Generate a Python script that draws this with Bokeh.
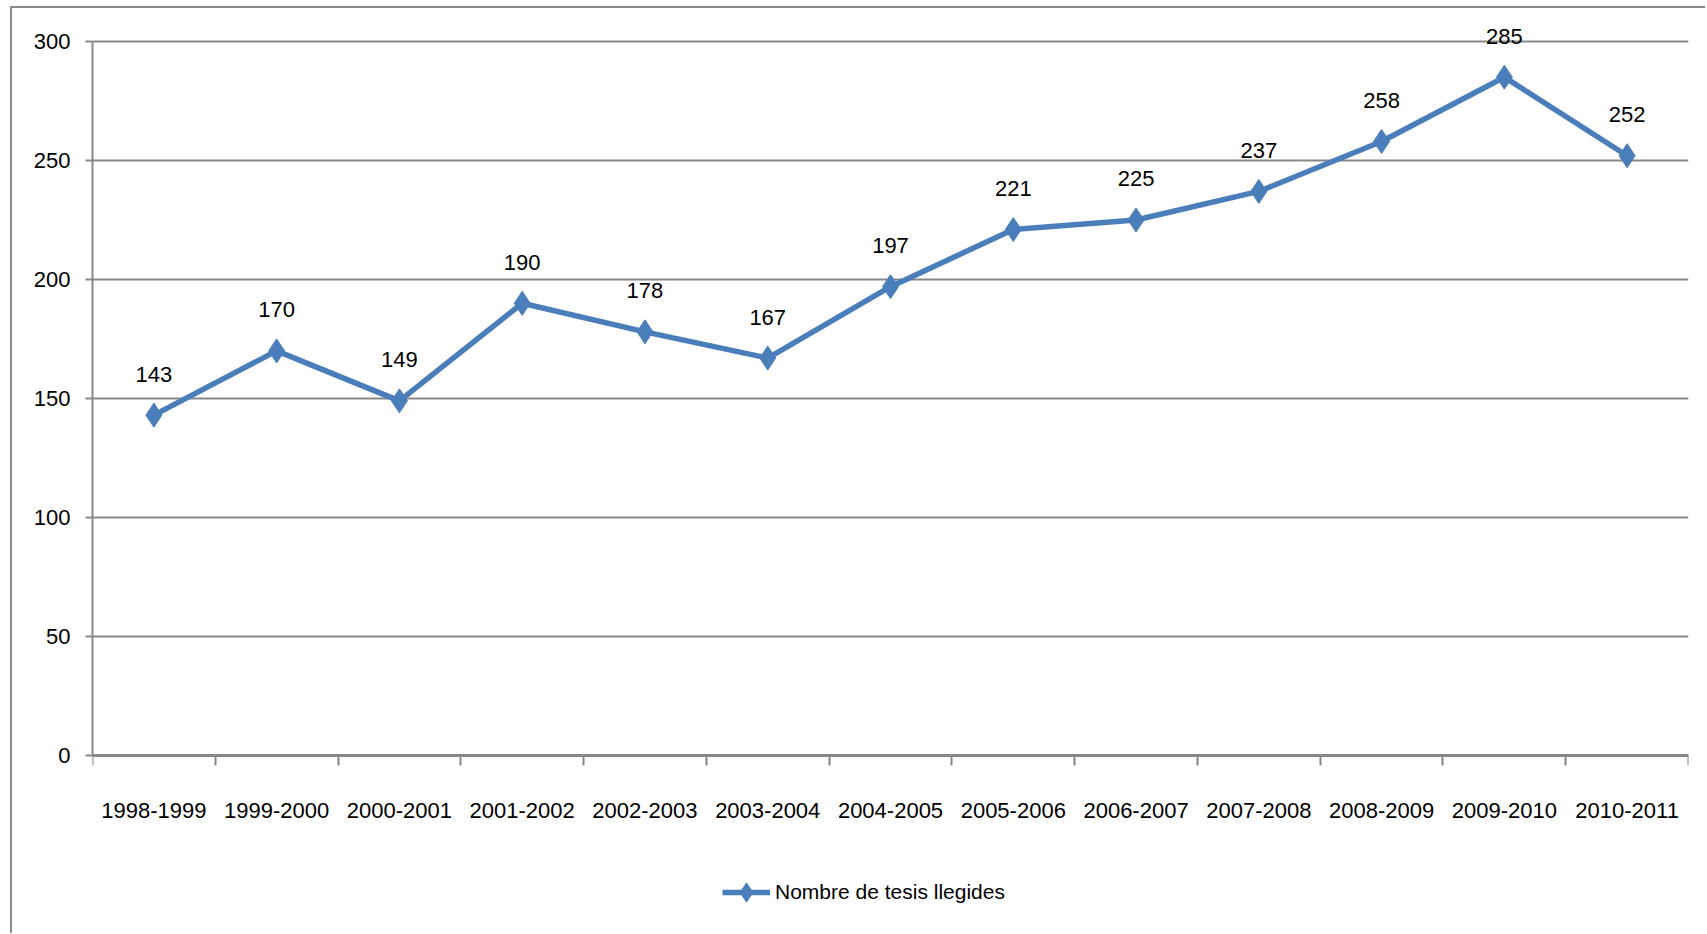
from bokeh.plotting import figure
from bokeh.models import FixedTicker, Range1d, Legend, ColumnDataSource
from bokeh.embed import file_html
from bokeh.resources import INLINE
from bokeh.core.properties import value

categories = ["1998-1999", "1999-2000", "2000-2001", "2001-2002", "2002-2003",
              "2003-2004", "2004-2005", "2005-2006", "2006-2007", "2007-2008",
              "2008-2009", "2009-2010", "2010-2011"]
tesis = [143, 170, 149, 190, 178, 167, 197, 221, 225, 237, 258, 285, 252]
y_ticks = [0, 50, 100, 150, 200, 250, 300]
series_name = "Nombre de tesis llegides"

FONT = "Liberation Sans"
FS = "22px"
GRAY = "#878787"
BLUE = "#4A7EBB"

xs = [i + 0.5 for i in range(len(categories))]
src = ColumnDataSource(dict(x=xs, y=tesis, lab=[str(v) for v in tesis]))

# 2.38 px per unit; frame extends below zero to hold axis labels and legend
p = figure(frame_width=1596, frame_height=920,
           min_border_left=80, min_border_top=5, min_border_right=17, min_border_bottom=0,
           x_range=Range1d(0, len(categories)), y_range=Range1d(-74.79, 311.76),
           output_backend="svg", toolbar_location=None, tools="")
p.margin = (6, 0, 0, 10)
p.styles = {"border-left": "2px solid #8a8a8a", "border-top": "2px solid #8a8a8a"}
p.outline_line_color = None
p.background_fill_color = "white"
p.border_fill_color = "white"

# x axis at y=0: labels at centers, ticks at boundaries
p.xaxis.fixed_location = 0
p.xaxis.ticker = FixedTicker(ticks=xs, minor_ticks=list(range(len(categories) + 1)))
p.xaxis.major_label_overrides = {x: c for x, c in zip(xs, categories)}
p.xaxis.major_tick_out = 0
p.xaxis.major_tick_in = 0
p.xaxis.minor_tick_out = 10
p.xaxis.minor_tick_in = 0
p.xaxis.minor_tick_line_color = GRAY
p.xaxis.minor_tick_line_width = 2
p.xaxis.axis_line_color = GRAY
p.xaxis.axis_line_width = 3
p.xaxis.major_label_standoff = 38
p.xaxis.major_label_text_font = FONT
p.xaxis.major_label_text_font_size = FS
p.xaxis.major_label_text_color = "black"
p.xgrid.visible = False

p.yaxis.ticker = FixedTicker(ticks=y_ticks, minor_ticks=[])
p.yaxis.bounds = (0, 300)
p.yaxis.major_tick_out = 7
p.yaxis.major_tick_in = 0
p.yaxis.major_tick_line_color = GRAY
p.yaxis.major_tick_line_width = 2
p.yaxis.axis_line_color = GRAY
p.yaxis.axis_line_width = 2
p.yaxis.major_label_standoff = 15
p.yaxis.major_label_text_font = FONT
p.yaxis.major_label_text_font_size = FS
p.yaxis.major_label_text_color = "black"
p.ygrid.grid_line_color = GRAY
p.ygrid.grid_line_width = 2

r_line = p.line("x", "y", source=src, line_color=BLUE, line_width=5.5)
r_pts = p.scatter("x", "y", source=src, marker="diamond", size=24,
                  fill_color=BLUE, line_color=BLUE)
p.text("x", "y", text="lab", source=src, y_offset=-41,
       text_align="center", text_baseline="middle",
       text_font=value(FONT), text_font_size=FS, text_color="black")

legend = Legend(items=[(series_name, [r_line, r_pts])], location=(630, 12),
                orientation="horizontal", glyph_width=48, glyph_height=58,
                label_standoff=5, padding=0, margin=0, border_line_color=None,
                background_fill_alpha=0,
                label_text_font=FONT, label_text_font_size="21px",
                label_text_color="black")
p.add_layout(legend, "center")

open("out.html", "w").write(file_html(p, INLINE))
